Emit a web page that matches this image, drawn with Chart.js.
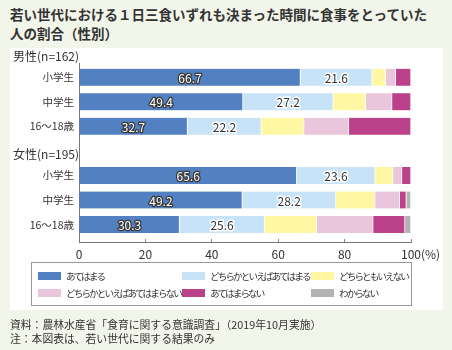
<!DOCTYPE html>
<html lang="ja">
<head>
<meta charset="utf-8">
<script src="https://cdn.jsdelivr.net/npm/chart.js@4"></script>
<style>
  body { margin: 0; }
  #page { position: relative; width: 452px; height: 350px; background: #f2f5e9; overflow: hidden;
          font-family: 'Noto Sans CJK JP', sans-serif; color: #333; }
  #title { position: absolute; left: 10px; top: 5px; font-size: 13.5px; font-weight: bold; line-height: 19px; white-space: nowrap; }
  #panel { position: absolute; left: 10px; top: 48px; width: 433px; height: 262px; background: #fff; }
  #chart { position: absolute; left: 0; top: 0; }
  #legend { position: absolute; left: 31px; top: 262px; border: 1px solid #999;
            display: grid; grid-template-columns: 144px 129px 1fr; grid-auto-rows: 17.5px; padding: 4px 0 0 6px;
            box-sizing: border-box; width: 381px; height: 44px; font-size: 9.6px; letter-spacing: -1.9px; }
  #legend div { display: flex; align-items: center; white-space: nowrap; }
  #legend span { display: inline-block; flex-shrink: 0; width: 23px; height: 8px; margin-right: 5px; }
  #note { position: absolute; left: 10px; top: 317px; font-size: 10.8px; line-height: 14px; white-space: nowrap; }
</style>
</head>
<body>
<div id="page">
  <div id="title">若い世代における１日三食いずれも決まった時間に食事をとっていた<br>人の割合（性別）</div>
  <div id="panel"></div>
  <canvas id="chart" width="452" height="350"></canvas>
  <div id="legend"></div>
  <div id="note">資料：農林水産省「食育に関する意識調査」（2019年10月実施）<br>注：本図表は、若い世代に関する結果のみ</div>
</div>
<script>
// 区分
const groups = ['男性(n=162)', '女性(n=195)'];
const ages = ['小学生', '中学生', '16～18歳'];
const answers = ['あてはまる', 'どちらかといえばあてはまる', 'どちらともいえない',
                 'どちらかといえばあてはまらない', 'あてはまらない', 'わからない'];
const xTicks = [0, 20, 40, 60, 80, 100];

// 値（％）: 男性 小・中・16～18, 女性 小・中・16～18
const atehamaru      = [66.7, 49.4, 32.7, 65.6, 49.2, 30.3];
const dochiraAte     = [21.6, 27.2, 22.2, 23.6, 28.2, 25.6];
const dochiraTomo    = [4.1, 9.8, 12.9, 5.4, 11.8, 15.7];
const dochiraAteNai  = [3.0, 7.9, 13.5, 2.7, 7.4, 17.0];
const atehamaranai   = [4.6, 5.7, 18.7, 2.7, 2.0, 9.6];
const wakaranai      = [0, 0, 0, 0, 1.4, 1.8];

const colors = ['#5280c1', '#c8e3f7', '#fff7a3', '#e9c6dc', '#bb418a', '#b3b3b3'];
const series = [atehamaru, dochiraAte, dochiraTomo, dochiraAteNai, atehamaranai, wakaranai];

// 見出し行を挟んだ行ラベル
const rows = [];
groups.forEach(g => { rows.push(g); ages.forEach(a => rows.push(a)); });
const isHeader = i => i % 4 === 0;
const toRows = vals => {
    const out = [];
    groups.forEach((g, gi) => { out.push(null); ages.forEach((a, ai) => out.push(vals[gi * 3 + ai])); });
    return out;
};

Chart.defaults.font.family = "'Noto Sans CJK JP', sans-serif";
Chart.defaults.color = '#333';

// 見出し・数値ラベル・(%)
const extras = {
    id: 'extras',
    afterDatasetsDraw(chart) {
        const ctx = chart.ctx;
        const y = chart.scales.y, x = chart.scales.x;
        ctx.save();
        ctx.textBaseline = 'middle';
        ctx.font = "12px 'Noto Sans CJK JP'";
        ctx.fillStyle = '#333';
        ctx.textAlign = 'left';
        rows.forEach((r, i) => { if (isHeader(i)) ctx.fillText(r, 13, y.getPixelForValue(i) + 4); });
        ctx.fillText('(%)', x.getPixelForValue(100) + 10, 254);
        ctx.textAlign = 'center';
        ctx.lineJoin = 'round';
        [0, 1].forEach(di => {
            chart.getDatasetMeta(di).data.forEach((bar, i) => {
                const v = chart.data.datasets[di].data[i];
                if (v == null) return;
                const p = bar.getCenterPoint();
                const t = v.toFixed(1);
                ctx.lineWidth = di === 0 ? 2.5 : 3;
                ctx.strokeStyle = di === 0 ? '#3a3a3a' : '#fff';
                ctx.strokeText(t, p.x, p.y + 1);
                ctx.fillStyle = di === 0 ? '#fff' : '#333';
                ctx.fillText(t, p.x, p.y + 1);
            });
        });
        ctx.restore();
    }
};

new Chart(document.getElementById('chart'), {
    type: 'bar',
    data: {
        labels: rows,
        datasets: answers.map((a, i) => ({
            label: a,
            data: toRows(series[i]),
            backgroundColor: colors[i],
            borderColor: '#fff',
            borderWidth: { right: 1 },
            borderSkipped: false,
            barThickness: 17
        }))
    },
    options: {
        indexAxis: 'y',
        responsive: false,
        animation: false,
        layout: { padding: { top: 63, right: 41, left: 0, bottom: 0 } },
        scales: {
            x: {
                stacked: true,
                min: 0, max: 100,
                afterBuildTicks: s => { s.ticks = xTicks.map(v => ({ value: v })); },
                afterFit: s => { s.height = 108; },
                grid: { drawOnChartArea: false, tickLength: -3, color: '#888' },
                border: { color: '#777' },
                ticks: { padding: 8, font: { size: 12 }, color: '#333' }
            },
            y: {
                stacked: true,
                afterBuildTicks: s => { s._startValue = 0.42; s._valueRange = 7.29; },
                afterFit: s => { s.width = 79; },
                grid: { display: false, drawTicks: false },
                border: { color: '#777' },
                ticks: {
                    autoSkip: false, padding: 5, font: { size: 10.5 }, color: '#333',
                    callback: (v, i) => isHeader(i) ? '' : rows[i]
                }
            }
        },
        plugins: { legend: { display: false }, tooltip: { enabled: false } }
    },
    plugins: [extras]
});

// 凡例
const legend = document.getElementById('legend');
answers.forEach((a, i) => {
    const d = document.createElement('div');
    d.innerHTML = '<span style="background:' + colors[i] + '"></span>' + a;
    legend.appendChild(d);
});
</script>
</body>
</html>
